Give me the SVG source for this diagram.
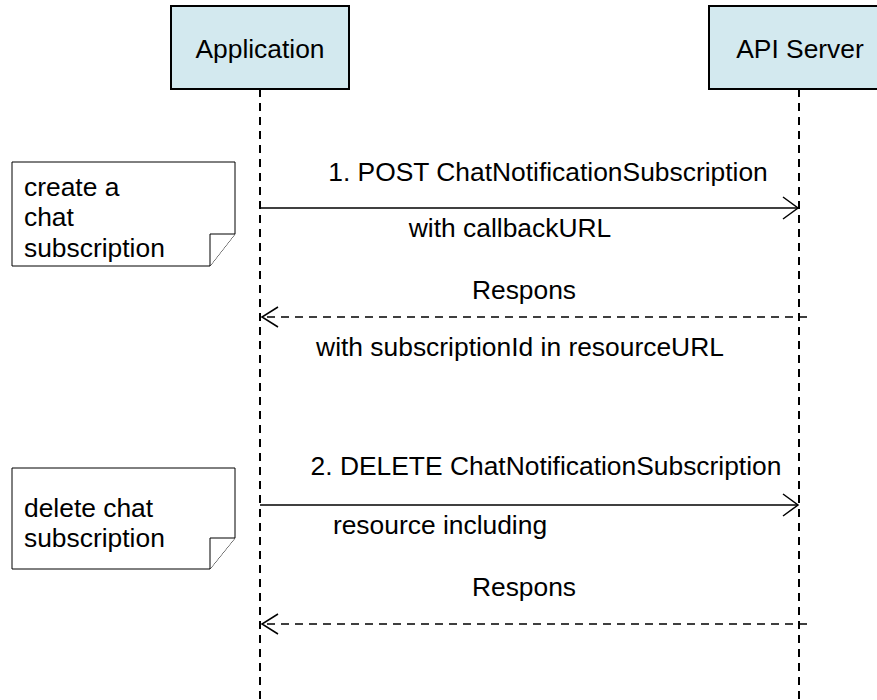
<svg xmlns="http://www.w3.org/2000/svg" width="877" height="700" viewBox="0 0 877 700">
  <style>
    text { font-family: "Liberation Sans", Arial, sans-serif; font-size: 26.4px; fill: #000; }
    .mid { text-anchor: middle; }
    .actor { fill: #d3e9ef; stroke: #000; stroke-width: 2; }
    .life { stroke: #000; stroke-width: 2; stroke-dasharray: 8 6; fill: none; }
    .note { fill: #fff; stroke: #000; stroke-width: 1; }
    .msg { stroke: #000; stroke-width: 1.5; fill: none; }
    .reply { stroke: #000; stroke-width: 1.5; fill: none; stroke-dasharray: 8 6; }
    .head { stroke: #000; stroke-width: 1.5; fill: none; }
  </style>

  <!-- participants -->
  <g id="application">
    <rect class="actor" x="171" y="6" width="178" height="83"/>
    <text class="mid" x="260" y="58">Application</text>
  </g>
  <g id="api-server">
    <rect class="actor" x="709" y="6" width="180" height="83"/>
    <text class="mid" x="800" y="58">API Server</text>
  </g>

  <!-- notes -->
  <g id="note-create">
    <path class="note" d="M12,162 H235 V234 L210,266 H12 Z"/>
    <path class="note" d="M210,266 V234 H235"/>
    <text x="24" y="196">create a</text>
    <text x="24" y="226">chat</text>
    <text x="24" y="257">subscription</text>
  </g>
  <g id="note-delete">
    <path class="note" d="M12,468 H235 V538 L210,569 H12 Z"/>
    <path class="note" d="M210,569 V538 H235"/>
    <text x="24" y="517">delete chat</text>
    <text x="24" y="547">subscription</text>
  </g>

  <!-- lifelines and messages -->
  <g id="connectors">
    <line class="life" x1="260" y1="89" x2="260" y2="700"/>
    <line class="life" x1="799" y1="89" x2="799" y2="700"/>

    <!-- 1. POST -->
    <line class="msg" x1="260" y1="208" x2="798" y2="208"/>
    <path class="head" d="M783,197 L798,208 L783,219"/>
    <!-- response 1 -->
    <line class="reply" x1="807" y1="317" x2="262" y2="317"/>
    <path class="head" d="M278,307 L262,317 L278,327"/>

    <!-- 2. DELETE -->
    <line class="msg" x1="260" y1="505" x2="798" y2="505"/>
    <path class="head" d="M783,494 L798,505 L783,516"/>
    <!-- response 2 -->
    <line class="reply" x1="807" y1="624" x2="262" y2="624"/>
    <path class="head" d="M278,614 L262,624 L278,634"/>
  </g>

  <!-- message labels -->
  <g id="labels">
    <text class="mid" x="548" y="181">1. POST ChatNotificationSubscription</text>
    <text class="mid" x="510" y="237">with callbackURL</text>
    <text class="mid" x="524" y="299">Respons</text>
    <text class="mid" x="520" y="356">with subscriptionId in resourceURL</text>
    <text class="mid" x="546" y="475">2. DELETE ChatNotificationSubscription</text>
    <text class="mid" x="440" y="534">resource including</text>
    <text class="mid" x="524" y="596">Respons</text>
  </g>
</svg>
